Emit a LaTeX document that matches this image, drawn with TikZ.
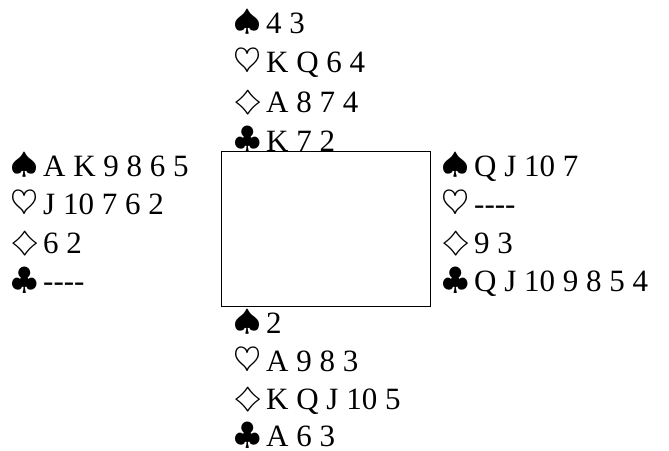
\documentclass[tikz,border=0pt]{standalone}
\usepackage{fontspec}
\setmainfont{Liberation Serif}
\usepackage{graphicx}
\newcommand\suitgen[4]{\makebox[25pt][c]{\raisebox{#3}{\scalebox{#1}[#2]{\fontsize{10}{12}\selectfont$#4$}}}\hspace{6pt}}
\newcommand\Sp{\suitgen{3.6}{2.95}{2.5pt}{\spadesuit}}
\newcommand\Hs{\suitgen{3.6}{3.3}{1pt}{\heartsuit}}
\newcommand\Di{\suitgen{3.7}{2.8}{2pt}{\diamondsuit}}
\newcommand\Cl{\suitgen{3.4}{3.1}{2.5pt}{\clubsuit}}
\newcommand\hy{-\kern0pt-\kern0pt-\kern0pt-}
\begin{document}
\begin{tikzpicture}[x=1pt,y=-1pt,
  row/.style={anchor=base west, inner sep=0pt, font=\fontsize{31}{36}\selectfont},
  tablebox/.style={draw, line width=1pt, inner sep=0pt, anchor=north west, minimum width=209pt, minimum height=155pt}]
\useasboundingbox (0,0) rectangle (669,450);
\node[tablebox] (table) at (221,151) {};
% North
\node[row] (n1) at (235,33)   {\Sp 4 3};
\node[row] (n2) at (235,72.5) {\Hs K Q 6 4};
\node[row] (n3) at (235,112)  {\Di A 8 7 4};
\node[row] (n4) at (235,151)  {\Cl K 7 2};
% West
\node[row] (w1) at (12,176)   {\Sp A K 9 8 6 5};
\node[row] (w2) at (12,214.5) {\Hs J 10 7 6 2};
\node[row] (w3) at (12,253)   {\Di 6 2};
\node[row] (w4) at (12,291.5) {\Cl \hy};
% East
\node[row] (e1) at (443,176)   {\Sp Q J 10 7};
\node[row] (e2) at (443,214.5) {\Hs \hy};
\node[row] (e3) at (443,253)   {\Di 9 3};
\node[row] (e4) at (443,291.5) {\Cl Q J 10 9 8 5 4};
% South
\node[row] (s1) at (235,333) {\Sp 2};
\node[row] (s2) at (235,371) {\Hs A 9 8 3};
\node[row] (s3) at (235,409) {\Di K Q J 10 5};
\node[row] (s4) at (235,446.5) {\Cl A 6 3};
\end{tikzpicture}
\end{document}
